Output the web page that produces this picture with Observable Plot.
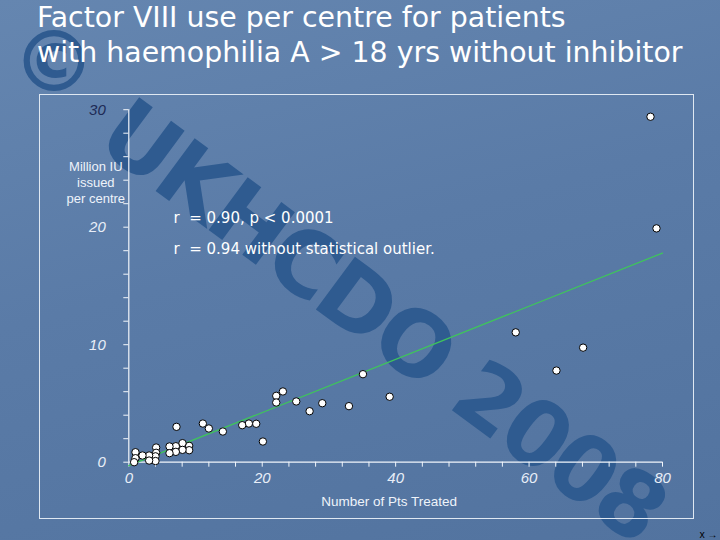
<!DOCTYPE html>
<html><head><meta charset="utf-8">
<script src="https://cdn.jsdelivr.net/npm/d3@7"></script>
<script src="https://cdn.jsdelivr.net/npm/@observablehq/plot@0.6"></script>
<style>
html,body{margin:0;padding:0;}
body{width:720px;height:540px;overflow:hidden;position:relative;
  background:linear-gradient(165deg,#6586b0 0%,#5a7ba7 45%,#52739f 100%);
  font-family:"Liberation Sans",Arial,sans-serif;}
.wm{position:absolute;color:#2f5b90;font-family:"DejaVu Sans",sans-serif;font-weight:bold;white-space:nowrap;}
#wm{left:112px;top:70px;font-size:90px;line-height:100px;letter-spacing:-4px;transform:rotate(36.5deg);transform-origin:0 50%;}
#copy{left:12px;top:14px;font-size:84px;line-height:96px;}
#title{position:absolute;left:37px;top:0;color:#fff;font-family:"DejaVu Sans",sans-serif;font-size:28.4px;line-height:35px;white-space:nowrap;}
#frame{position:absolute;left:39px;top:94px;width:655px;height:425px;border:1px solid #dfe8f2;box-sizing:border-box;}
#chart{position:absolute;left:0;top:0;}
</style></head><body>
<div class="wm" id="copy">©</div>
<div class="wm" id="wm">UKHCDO 2008</div>
<div id="frame"></div>
<div id="title">Factor VIII use per centre for patients<br>with haemophilia A &gt; 18 yrs without inhibitor</div>
<div id="chart"></div>
<script>
// Data: number of patients treated vs million IU issued per centre
const ptsTreated = [78.2, 79.1, 58.0, 68.1, 64.1, 39.1, 35.1, 33.0, 29.0, 27.1, 25.1, 23.1, 22.1, 22.1, 20.1, 19.1, 18.0, 17.0, 14.1, 12.0, 11.1, 7.15,
  9.05, 9.05, 8.05, 8.05, 7.05, 7.05, 6.1, 6.1, 4.1, 4.1, 4.0, 4.0, 3.05, 3.05, 2.05, 1.0, 1.0, 0.8];
const millionIU = [29.4, 19.9, 11.05, 9.75, 7.8, 5.57, 7.49, 4.77, 5.02, 4.34, 5.17, 6.02, 5.65, 5.08, 1.76, 3.27, 3.29, 3.15, 2.61, 2.87, 3.29, 3.01,
  1.39, 1.02, 1.62, 1.05, 1.36, 0.88, 1.34, 0.77, 1.25, 0.8, 0.5, 0.1, 0.57, 0.14, 0.57, 0.85, 0.34, 0.0];
// Fitted regression line (green) endpoints
const fitX = [0, 80];
const fitY = [-0.3, 17.8];
// Axis ticks and labels
const xMinorTicks = [0, 4, 8, 12, 16, 20, 24, 28, 32, 36, 40, 44, 48, 52, 56, 60, 64, 68, 72, 76, 80];
const yMinorTicks = [0, 2, 4, 6, 8, 10, 12, 14, 16, 18, 20, 22, 24, 26, 28, 30];
const xTickLabels = [0, 20, 40, 60, 80];
const yTickLabels = [0, 10, 20, 30];
const yLabelColors = ["#e8eef8", "#e8eef8", "#e8eef8", "#1d2a55"];
const xTitle = "Number of Pts Treated";
const yTitle = "Million IU\nissued\nper centre";
const annotations = ["r  = 0.90, p < 0.0001", "r  = 0.94 without statistical outlier."];

const points = ptsTreated.map((x, i) => ({x, y: millionIU[i]}));
const fit = fitX.map((x, i) => ({x, y: fitY[i]}));
const yLab = yTickLabels.map((v, i) => ({v, c: yLabelColors[i]}));

const axisCol = "#f2f6fb";
const chart = Plot.plot({
  width: 720, height: 540,
  marginLeft: 128.3, marginRight: 58, marginTop: 109.2, marginBottom: 78.3,
  x: {type: "linear", domain: [0, 80]},
  y: {type: "linear", domain: [0, 30]},
  style: {background: "transparent", overflow: "visible"},
  marks: [
    Plot.axisX({ticks: xMinorTicks, tickSize: 5, tickFormat: () => "", stroke: axisCol}),
    Plot.axisY({ticks: yMinorTicks, tickSize: 5, tickFormat: () => "", stroke: axisCol}),
    Plot.ruleY([0], {stroke: axisCol, strokeWidth: 1.2}),
    Plot.ruleX([0], {stroke: axisCol, strokeWidth: 1.2}),
    Plot.text(xTickLabels, {x: d => d, y: 0, text: d => String(d), dy: 16, fill: "#e8eef8",
      fontSize: 15, fontStyle: "italic", fontFamily: "Liberation Sans, Arial, sans-serif", lineAnchor: "middle"}),
    Plot.text(yLab, {x: 0, y: "v", text: d => String(d.v), dx: -23, textAnchor: "end", fill: "c",
      fontSize: 15, fontStyle: "italic", fontFamily: "Liberation Sans, Arial, sans-serif"}),
    Plot.text([xTitle], {frameAnchor: "bottom", dx: -6.5, dy: 39, fill: "#eef3fa", fontSize: 13.5,
      fontFamily: "Liberation Sans, Arial, sans-serif", lineAnchor: "middle"}),
    Plot.text([yTitle], {frameAnchor: "top-left", dx: -33, dy: 50, fill: "#eef3fa", fontSize: 13,
      lineHeight: 1.23, lineAnchor: "top", textAnchor: "middle", fontFamily: "Liberation Sans, Arial, sans-serif"}),
    Plot.text([annotations[0]], {frameAnchor: "top-left", dx: 44.7, dy: 108.5, textAnchor: "start", fill: "#ffffff",
      fontSize: 15, fontFamily: "DejaVu Sans, sans-serif", lineAnchor: "middle"}),
    Plot.text([annotations[1]], {frameAnchor: "top-left", dx: 44.7, dy: 139.8, textAnchor: "start", fill: "#ffffff",
      fontSize: 15, fontFamily: "DejaVu Sans, sans-serif", lineAnchor: "middle"}),
    Plot.line(fit, {x: "x", y: "y", stroke: "#3fc45c", strokeWidth: 1.3}),
    Plot.dot(points, {x: "x", y: "y", r: 3.7, fill: "#ffffff", stroke: "#000000", strokeWidth: 1})
  ]
});
document.getElementById("chart").appendChild(chart);
</script>
</body></html>
